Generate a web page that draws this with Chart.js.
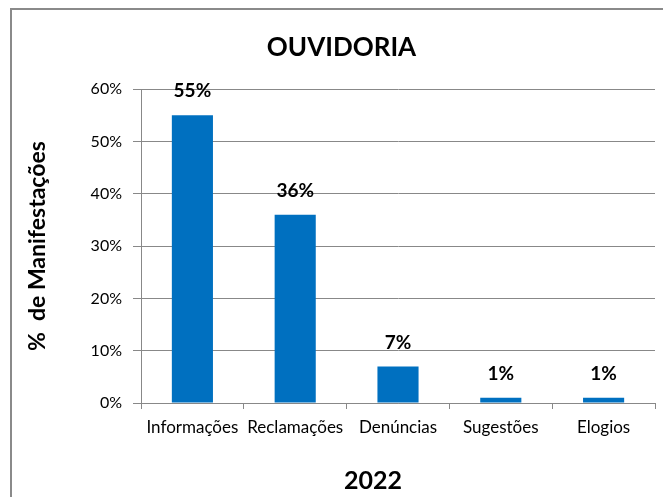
<!DOCTYPE html>
<html>
<head>
<meta charset="utf-8">
<script src="https://cdn.jsdelivr.net/npm/chart.js"></script>
<style>
  html, body { margin: 0; padding: 0; background: #fff; }
  #wrap { position: relative; width: 663px; height: 497px; overflow: hidden; }
  #frame { position: absolute; left: 10px; top: 8px; width: 720px; height: 600px; border: 2px solid #8a8a8a; box-sizing: border-box; }
  canvas { position: absolute; left: 0; top: 0; }
</style>
</head>
<body>
<div id="wrap">
  <div id="frame"></div>
  <canvas id="chart" width="663" height="497"></canvas>
</div>
<script>
const categories = ["Informações", "Reclamações", "Denúncias", "Sugestões", "Elogios"];
const values = [55, 36, 7, 1, 1];
const yTicks = [0, 10, 20, 30, 40, 50, 60];
const xTitle = "2022";

const FONT = "Lato, 'Open Sans', sans-serif";
const GRAY = "#888888";

// rótulos de valor acima das barras + título do eixo x (deslocado como no original)
const barLabels = {
  id: "barLabels",
  afterDatasetsDraw(chart) {
    const ctx = chart.ctx;
    const meta = chart.getDatasetMeta(0);
    ctx.save();
    ctx.font = "bold 19px " + FONT;
    ctx.fillStyle = "#000";
    ctx.textAlign = "center";
    ctx.textBaseline = "middle";
    meta.data.forEach((bar, i) => {
      ctx.fillText(values[i] + "%", bar.x, bar.y - 24);
    });
    const area = chart.chartArea;
    ctx.font = "bold 25px " + FONT;
    ctx.fillText(xTitle, area.left + 232, chart.height - 16);
    ctx.restore();
  }
};

new Chart(document.getElementById("chart"), {
  type: "bar",
  data: {
    labels: categories,
    datasets: [{
      data: values,
      backgroundColor: "#0070C0",
      categoryPercentage: 1,
      barPercentage: 0.4
    }]
  },
  options: {
    responsive: false,
    animation: false,
    layout: { padding: { left: 28, right: 8, top: 0, bottom: 0 } },
    plugins: {
      legend: { display: false },
      tooltip: { enabled: false },
      title: {
        display: true,
        text: "OUVIDORIA",
        color: "#000",
        font: { family: FONT, size: 26, weight: "bold" },
        padding: { top: 32, bottom: 26 }
      }
    },
    scales: {
      x: {
        afterFit(scale) { scale.height = 94; },
        grid: { display: true, drawOnChartArea: false, offset: true, color: GRAY, tickLength: 6 },
        border: { color: GRAY },
        ticks: { color: "#000", font: { family: FONT, size: 17 }, padding: 8, maxRotation: 0, autoSkip: false }
      },
      y: {
        min: 0,
        max: 60,
        afterFit(scale) { scale.width = 113; },
        afterBuildTicks(scale) { scale.ticks = yTicks.map(v => ({ value: v })); },
        grid: { color: GRAY, tickLength: 8 },
        border: { color: GRAY },
        ticks: {
          color: "#000",
          font: { family: FONT, size: 16 },
          padding: 11,
          callback: v => v + "%"
        },
        title: {
          display: true,
          text: "%  de Manifestações",
          color: "#000",
          font: { family: FONT, size: 23, weight: "bold" },
          padding: { top: -4, bottom: 0 }
        }
      }
    }
  },
  plugins: [barLabels]
});
</script>
</body>
</html>
